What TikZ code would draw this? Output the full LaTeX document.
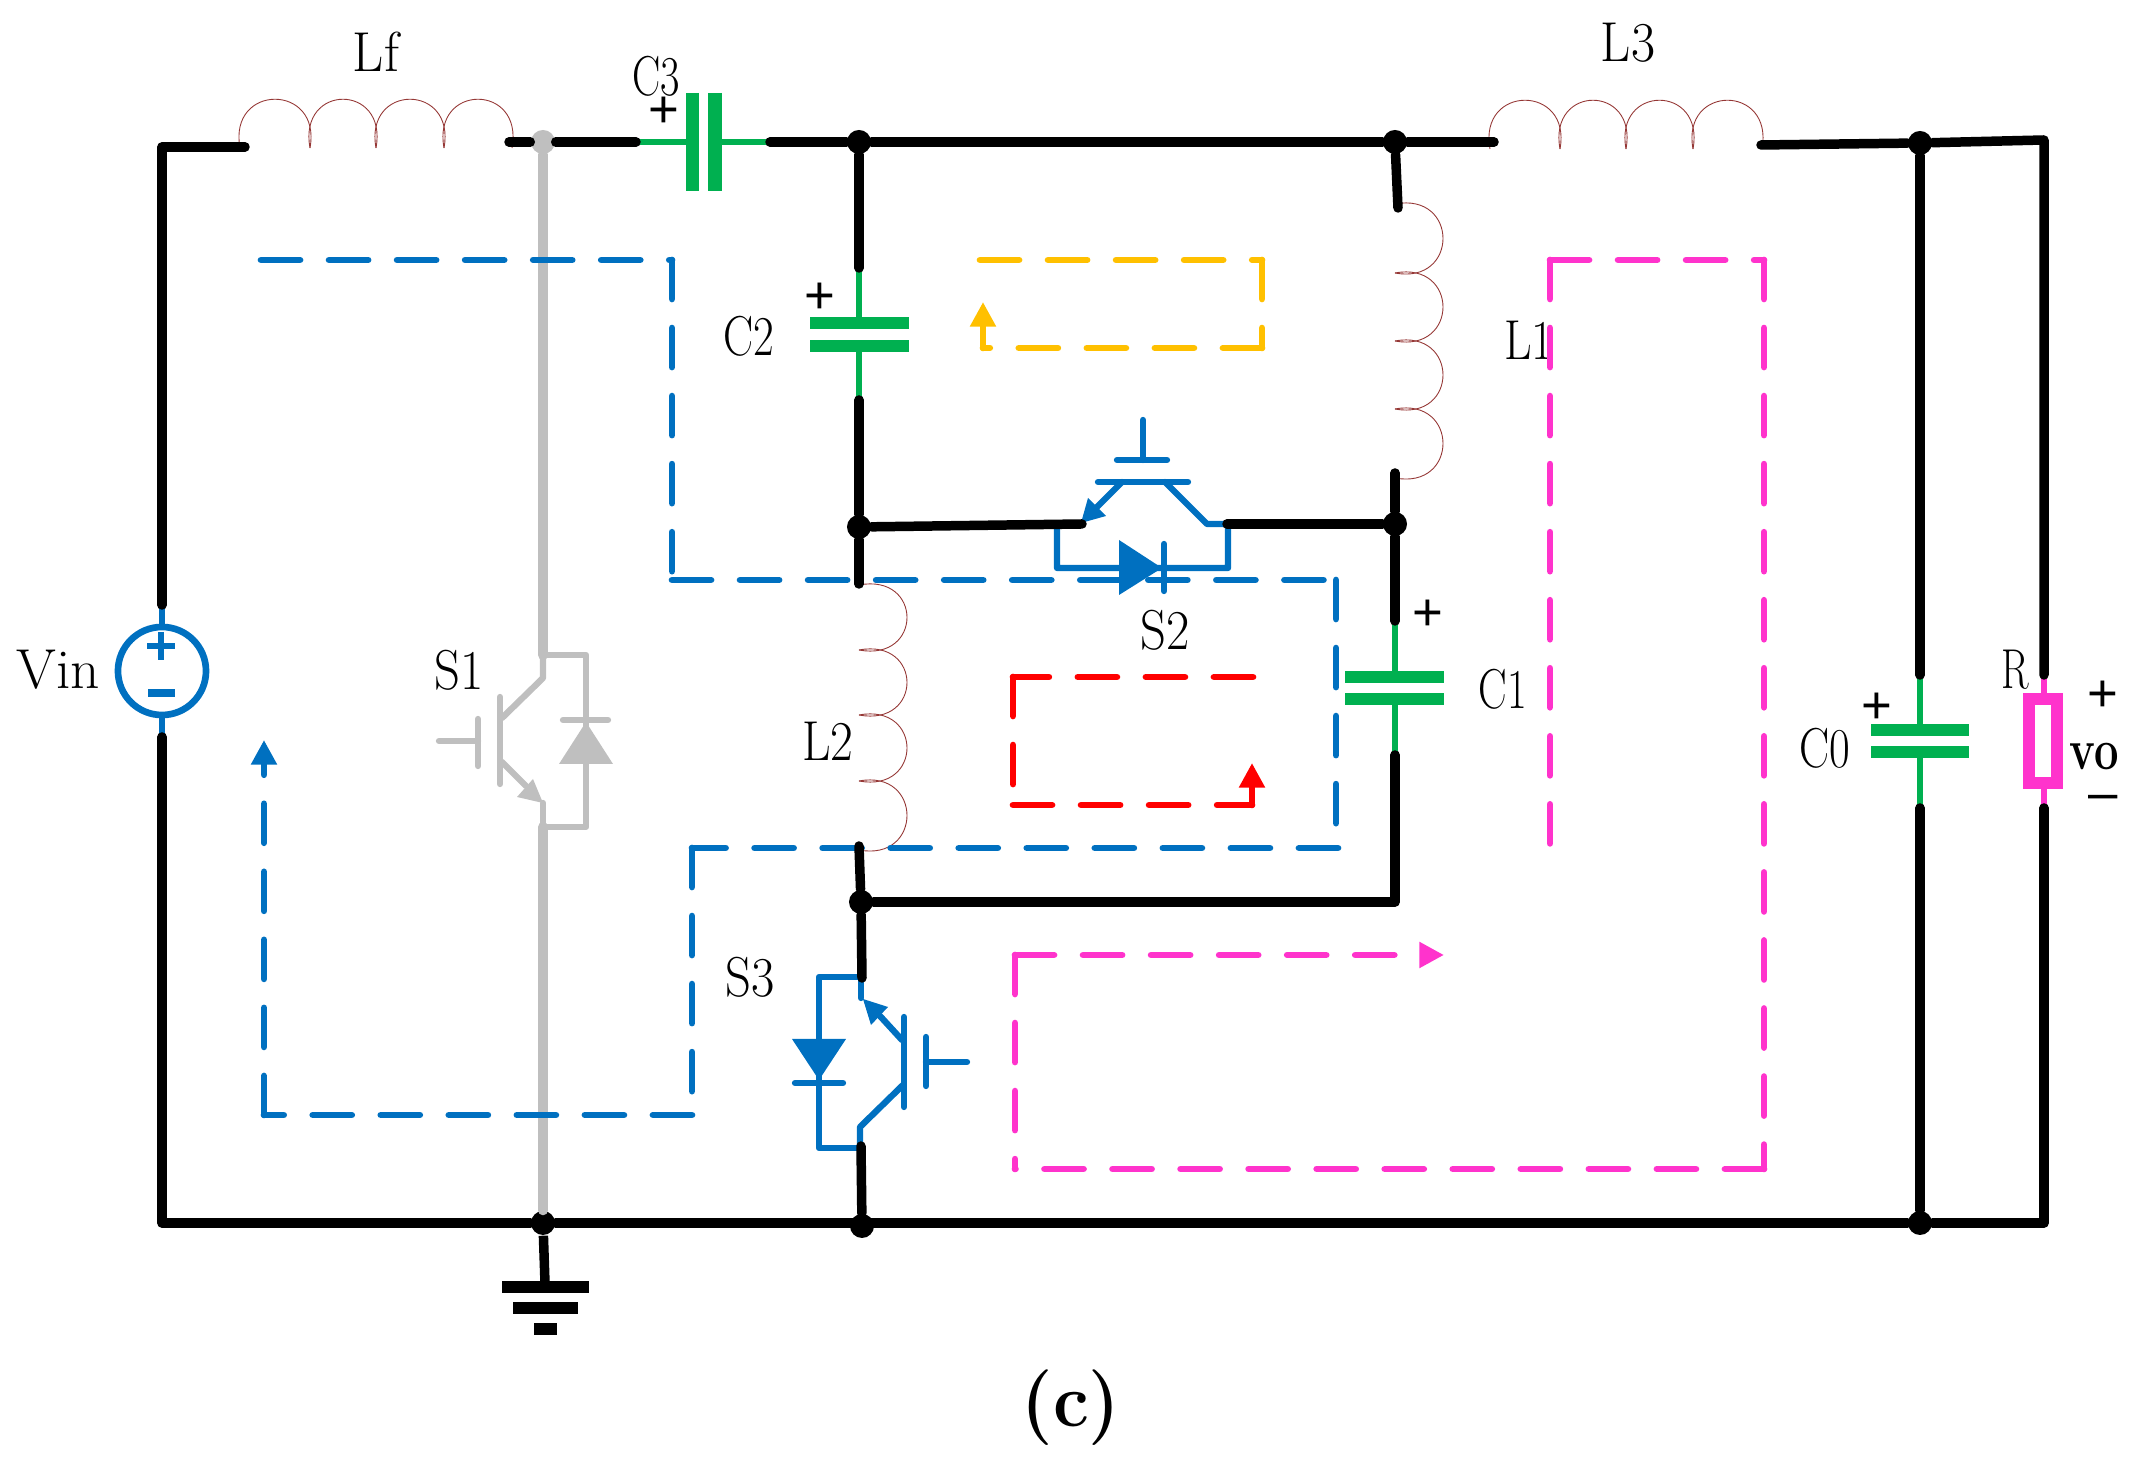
\documentclass[tikz,border=0pt]{standalone}
\usepackage{fontspec}
\newfontfamily\signfont{Liberation Sans}
\usetikzlibrary{arrows.meta}
\definecolor{igbtblue}{HTML}{0070C0}
\definecolor{capgreen}{HTML}{00B050}
\definecolor{offgrey}{HTML}{BFBFBF}
\definecolor{loopyellow}{HTML}{FFC000}
\definecolor{looppink}{HTML}{FF33CC}
\definecolor{coilred}{HTML}{953735}
\newcommand{\lbl}[2][0.75]{\scalebox{#1}[1]{#2}}
\tikzset{
	wire/.style={line width=2.7pt, line cap=round, line join=round},
	lead/.style={line width=1.5pt},
	plate/.style={capgreen, line width=3.5pt},
	thinblue/.style={igbtblue, line width=1.8pt, line cap=round, line join=round},
	thingrey/.style={offgrey, line width=1.8pt, line cap=round, line join=round},
	coil/.style={coilred, line width=0.25pt},
	dot/.style={circle, fill=black, inner sep=0pt, minimum size=0.24cm},
	txt/.style={font=\fontsize{16}{16}\selectfont, inner sep=0pt},
	sign/.style={font=\signfont\fontsize{15}{15}\selectfont, inner sep=0pt},
	loopdash/.style={line width=1.9pt, line cap=round, line join=round, dash pattern=on 11.1pt off 8.25pt},
	looptip/.style={-{Triangle[length=7pt,width=7pt]}}
}
\begin{document}
\begin{tikzpicture}[x=0.01cm,y=-0.01cm]
	\useasboundingbox (0,0) rectangle (2147,1471);

	% junctions
	\node[dot] (jTopA) at (859,142) {};
	\node[dot] (jTopB) at (1395,142) {};
	\node[dot] (jOut) at (1920,143) {};
	\node[dot] (jMidL) at (859,527) {};
	\node[dot] (jMidR) at (1395,524) {};
	\node[dot] (jLow) at (861,902) {};
	\node[dot] (jGnd) at (543,1223) {};
	\node[dot] (jBotA) at (862,1226) {};
	\node[dot] (jBotB) at (1920,1223) {};
	\node[circle, fill=offgrey, inner sep=0pt, minimum size=0.24cm] (jGrey) at (543,142) {};

	% free ends of the wires
	\coordinate (cTL) at (162,147);
	\coordinate (cLfIn) at (245,147);
	\coordinate (cLfOut) at (509,142);
	\coordinate (cC3l) at (636,142);
	\coordinate (cC3r) at (770,142);
	\coordinate (cL3In) at (1494,142);
	\coordinate (cL3Out) at (1761,145);
	\coordinate (cTR) at (2044,140);
	\coordinate (cBL) at (162,1223);
	\coordinate (cBR) at (2044,1223);
	\coordinate (cVinT) at (162,605);
	\coordinate (cVinB) at (162,737);
	\coordinate (cC2t) at (859,268);
	\coordinate (cC2b) at (859,400);
	\coordinate (cL2t) at (859,584);
	\coordinate (cL2b) at (859,846);
	\coordinate (cL1t) at (1398,208);
	\coordinate (cL1b) at (1395,473);
	\coordinate (cC1t) at (1395,621);
	\coordinate (cC1b) at (1395,755);
	\coordinate (cLowR) at (1395,902);
	\coordinate (cS2l) at (1082,524);
	\coordinate (cS2r) at (1227,524);
	\coordinate (cS3t) at (862,978);
	\coordinate (cS3b) at (861,1146);
	\coordinate (cC0t) at (1920,675);
	\coordinate (cC0b) at (1920,808);
	\coordinate (cRt) at (2044,675);
	\coordinate (cRb) at (2044,808);
	\coordinate (cS1t) at (543,655);
	\coordinate (cS1b) at (543,827);
	\coordinate (cGnd) at (545,1283);

	% inductors
	\foreach \a/\b in {240/310,310/376,376/444,444/512}
		\draw[coil] (\a,148) .. controls (\a-12,83) and (\b+12,83) .. (\b,148);
	\foreach \a/\b in {1490/1560,1560/1626,1626/1693,1693/1762}
		\draw[coil] (\a,149) .. controls (\a-12,84) and (\b+12,84) .. (\b,149);
	\foreach \a/\b in {204/273,273/341,341/409,409/478}
		\draw[coil] (1395,\a) .. controls (1459,\a-12) and (1459,\b+12) .. (1395,\b);
	\foreach \a/\b in {585/650,650/715,715/781,781/850}
		\draw[coil] (859,\a) .. controls (923,\a-12) and (923,\b+12) .. (859,\b);

	% branch that is off
	\draw[offgrey, wire, line width=2.85pt] (jGrey) -- (cS1t);
	\draw[offgrey, wire, line width=2.85pt] (cS1b) -- (jGnd);
	\draw[thingrey] (cS1t) -- (543,678) -- (502,718);
	\draw[thingrey] (cS1t) -- (586,655) -- (586,827) -- (cS1b) -- (543,803);
	\fill[offgrey] (543,803) -- (533,779) -- (517,797) -- cycle;
	\fill[offgrey] (586,722) -- (559,764) -- (613,764) -- cycle;
	\draw[thingrey] (563,720) -- (608,720);
	\draw[thingrey] (500,697) -- (500,784);
	\draw[thingrey] (478,719) -- (478,766);
	\draw[thingrey] (439,741) -- (478,741);
	\draw[thingrey] (502,762) -- (526,786);

	% labels
	\node[txt] (lblLf) at (376,52) {\lbl[0.96]{Lf}};
	\node[txt] (lblC3) at (656,76) {\lbl{C3}};
	\node[txt] (lblL3) at (1628,43) {\lbl[0.93]{L3}};
	\node[txt] (lblC2) at (749,336) {\lbl[0.8]{C2}};
	\node[txt] (lblL1) at (1529,340) {\lbl[0.85]{L1}};
	\node[txt] (lblVin) at (58,670) {\lbl[1.02]{Vin}};
	\node[txt] (lblS1) at (459,670) {\lbl[0.9]{S1}};
	\node[txt] (lblL2) at (828,741) {\lbl[0.88]{L2}};
	\node[txt] (lblS2) at (1165,630) {\lbl[0.9]{S2}};
	\node[txt] (lblC1) at (1503,689) {\lbl[0.76]{C1}};
	\node[txt] (lblS3) at (750,977) {\lbl[0.9]{S3}};
	\node[txt] (lblC0) at (1825,748) {\lbl[0.8]{C0}};
	\node[txt] (lblR) at (2015,670) {\lbl[0.72]{R}};
	\node[txt, font=\bfseries\fontsize{16.5}{16.5}\selectfont] (lblVo) at (2094,757) {\lbl{vo}};
	\node[txt, font=\bfseries\fontsize{21.5}{21.5}\selectfont] (lblC) at (1071,1408) {\lbl[0.95]{(c)}};
	\node[sign] (plusC3) at (664,112) {+};
	\node[sign] (plusC2) at (820,298) {+};
	\node[sign] (plusC1) at (1428,615) {+};
	\node[sign] (plusC0) at (1877,708) {+};
	\node[sign] (plusR) at (2103,696) {+};
	\node[sign] (minusR) at (2103,803) {–};

	% current loops
	\coordinate (bA) at (261,260);
	\coordinate (bB) at (672,260);
	\coordinate (bC) at (672,580);
	\coordinate (bD) at (1336,580);
	\coordinate (bE) at (1336,827);
	\coordinate (bF) at (1338,848);
	\coordinate (bG) at (692,848);
	\coordinate (bH) at (692,1115);
	\coordinate (bI) at (264,1115);
	\coordinate (bJ) at (264,740);
	\foreach \a/\b in {bA/bB,bB/bC,bC/bD,bD/bE,bF/bG,bG/bH,bH/bI}
		\draw[igbtblue, loopdash] (\a) -- (\b);
	\draw[igbtblue, loopdash, looptip] (bI) -- (bJ);

	\coordinate (yA) at (980,260);
	\coordinate (yB) at (1262,260);
	\coordinate (yC) at (1262,348);
	\coordinate (yD) at (983,348);
	\coordinate (yE) at (983,302);
	\foreach \a/\b in {yA/yB,yB/yC,yC/yD}
		\draw[loopyellow, loopdash] (\a) -- (\b);
	\draw[loopyellow, loopdash, looptip] (yD) -- (yE);

	\coordinate (rA) at (1253,677);
	\coordinate (rB) at (1013,677);
	\coordinate (rC) at (1013,805);
	\coordinate (rD) at (1252,805);
	\coordinate (rE) at (1252,763);
	\foreach \a/\b in {rA/rB,rB/rC,rC/rD}
		\draw[red, loopdash] (\a) -- (\b);
	\draw[red, loopdash, looptip] (rD) -- (rE);

	\coordinate (pA) at (1550,845);
	\coordinate (pB) at (1550,260);
	\coordinate (pC) at (1764,260);
	\coordinate (pD) at (1764,1169);
	\coordinate (pE) at (1015,1169);
	\coordinate (pF) at (1015,955);
	\coordinate (pG) at (1444,955);
	\foreach \a/\b in {pB/pA,pB/pC,pC/pD,pD/pE,pF/pE}
		\draw[looppink, loopdash] (\a) -- (\b);
	\draw[looppink, loopdash, looptip] (pF) -- (pG);

	% capacitors
	\draw[capgreen, lead] (cC3l) -- (692,142) (715,142) -- (cC3r);
	\draw[plate, line width=3.7pt] (692.5,93) -- (692.5,191);
	\draw[plate, line width=3.7pt] (715,93) -- (715,191);
	\draw[capgreen, lead] (cC2t) -- (859,323) (859,346) -- (cC2b);
	\draw[plate] (810,323) -- (909,323);
	\draw[plate] (810,346) -- (909,346);
	\draw[capgreen, lead] (cC1t) -- (1395,677) (1395,699) -- (cC1b);
	\draw[plate] (1345,677) -- (1444,677);
	\draw[plate] (1345,699) -- (1444,699);
	\draw[capgreen, lead] (cC0t) -- (1920,730) (1920,752) -- (cC0b);
	\draw[plate] (1871,730) -- (1969,730);
	\draw[plate] (1871,752) -- (1969,752);

	% load resistor
	\draw[looppink, lead] (cRt) -- (2044,699) (2044,783) -- (cRb);
	\draw[looppink, line width=3.5pt] (2029,699) rectangle (2057,783);

	% source
	\node[circle, draw=igbtblue, line width=1.9pt, inner sep=0pt, minimum size=0.88cm] (vin) at (162,671) {};
	\draw[igbtblue, lead] (cVinT) -- (vin);
	\draw[igbtblue, lead] (vin) -- (cVinB);
	\draw[igbtblue, line width=1.9pt] (147,646) -- (175,646) (161,632) -- (161,660);
	\draw[igbtblue, line width=2.2pt] (148,693) -- (175,693);

	% S2
	\draw[thinblue] (1143,420) -- (1143,460);
	\draw[thinblue] (1117,460) -- (1167,460);
	\draw[thinblue] (1098,482) -- (1188,482);
	\draw[thinblue] (1122,482) -- (1097,507);
	\fill[igbtblue] (1081,523) -- (1088,498) -- (1106,516) -- cycle;
	\draw[thinblue] (1165,482) -- (1207,524) -- (1228,524) -- (1228,568) -- (1057,568) -- (1057,524);
	\fill[igbtblue] (1119,540) -- (1162,568) -- (1119,595) -- cycle;
	\draw[thinblue] (1164,544) -- (1164,591);

	% S3
	\draw[thinblue] (861,977) -- (861,998);
	\draw[thinblue] (861,977) -- (819,977) -- (819,1148) -- (860,1148);
	\fill[igbtblue] (863,999) -- (888,1007) -- (871,1025) -- cycle;
	\draw[thinblue] (880,1016) -- (902,1040);
	\draw[thinblue] (904,1017) -- (904,1107);
	\draw[thinblue] (926,1037) -- (926,1086);
	\draw[thinblue] (926,1062) -- (967,1062);
	\draw[thinblue] (903,1085) -- (860,1127) -- (860,1148);
	\fill[igbtblue] (792,1039) -- (846,1039) -- (819,1080) -- cycle;
	\draw[thinblue] (795,1083) -- (843,1083);

	% wires
	\draw[wire] (cVinT) -- (cTL) -- (cLfIn);
	\draw[wire] (cLfOut) -- (jGrey);
	\draw[wire] (jGrey) -- (cC3l);
	\draw[wire] (cC3r) -- (jTopA);
	\draw[wire] (jTopA) -- (jTopB);
	\draw[wire] (jTopB) -- (cL3In);
	\draw[wire] (cL3Out) -- (jOut);
	\draw[wire] (jOut) -- (cTR) -- (cRt);
	\draw[wire] (jTopA) -- (cC2t);
	\draw[wire] (cC2b) -- (jMidL);
	\draw[wire] (jMidL) -- (cL2t);
	\draw[wire] (jMidL) -- (cS2l);
	\draw[wire] (cS2r) -- (jMidR);
	\draw[wire] (jTopB) -- (cL1t);
	\draw[wire] (cL1b) -- (jMidR);
	\draw[wire] (jMidR) -- (cC1t);
	\draw[wire] (cC1b) -- (cLowR) -- (jLow);
	\draw[wire] (cL2b) -- (jLow);
	\draw[wire] (jLow) -- (cS3t);
	\draw[wire] (cS3b) -- (jBotA);
	\draw[wire] (jOut) -- (cC0t);
	\draw[wire] (cC0b) -- (jBotB);
	\draw[wire] (cRb) -- (cBR) -- (jBotB);
	\draw[wire] (jBotB) -- (jGnd);
	\draw[wire] (jGnd) -- (cBL) -- (cVinB);

	% ground
	\draw[wire, line cap=butt] (jGnd) -- (cGnd);
	\draw[line width=3.4pt] (502,1287) -- (589,1287);
	\draw[line width=3.2pt] (513,1308) -- (578,1308);
	\draw[line width=3.2pt] (534,1329) -- (557,1329);
\end{tikzpicture}
\end{document}
